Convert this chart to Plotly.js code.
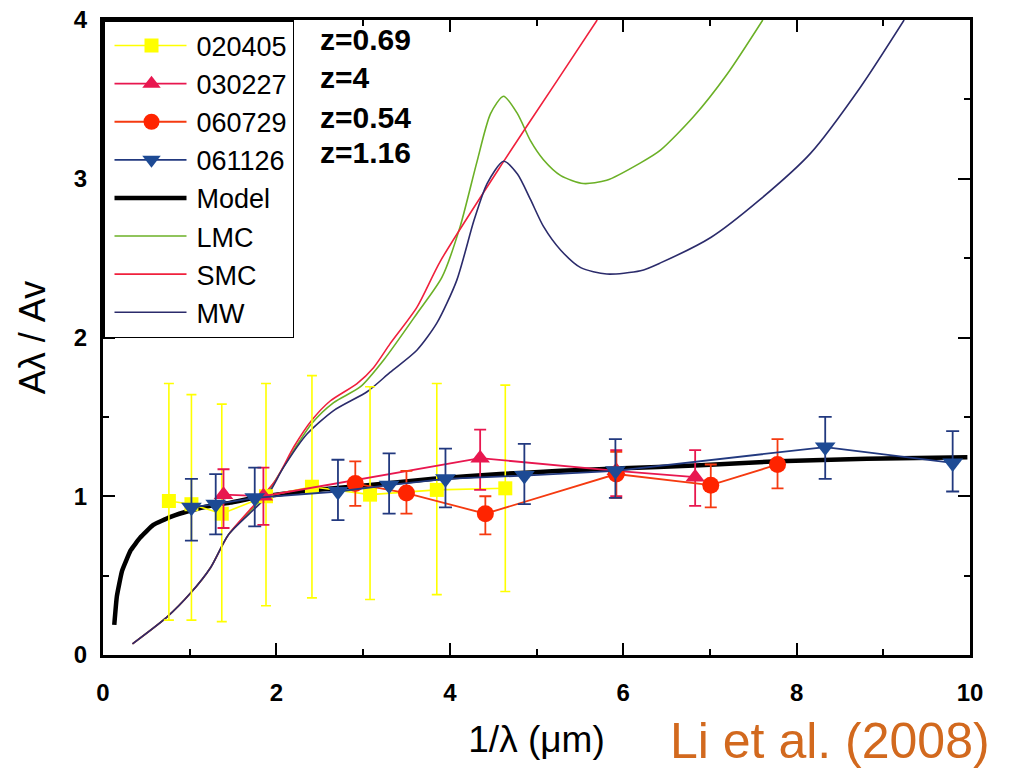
<!DOCTYPE html>
<html>
<head>
<meta charset="utf-8">
<script src="https://cdn.plot.ly/plotly-3.0.1.min.js"></script>
<style>html,body{margin:0;padding:0;background:#fff;}</style>
</head>
<body>
<div id="chart" style="width:1012px;height:773px;"></div>
<script>
// ---- data ----
// GRB 020405 (z=0.69)
const g020405_x  = [0.76, 1.02, 1.37, 1.88, 2.41, 3.08, 3.85, 4.64];
const g020405_y  = [0.97, 0.95, 0.89, 1.00, 1.06, 1.01, 1.04, 1.05];
const g020405_hi = [1.71, 1.64, 1.58, 1.71, 1.76, 1.69, 1.71, 1.70];
const g020405_lo = [0.22, 0.22, 0.21, 0.31, 0.36, 0.35, 0.38, 0.40];
// GRB 030227 (z=4)
const g030227_x  = [1.39, 1.85, 4.35, 5.92, 6.83];
const g030227_y  = [1.01, 1.00, 1.24, 1.16, 1.12];
const g030227_hi = [1.17, 1.18, 1.42, 1.29, 1.29];
const g030227_lo = [0.80, 0.82, 1.04, 1.00, 0.94];
// GRB 060729 (z=0.54)
const g060729_x  = [2.91, 3.50, 4.41, 5.92, 7.01, 7.78];
const g060729_y  = [1.08, 1.02, 0.89, 1.14, 1.07, 1.20];
const g060729_hi = [1.22, 1.16, 1.00, 1.28, 1.20, 1.36];
const g060729_lo = [0.94, 0.89, 0.76, 0.99, 0.93, 1.05];
// GRB 061126 (z=1.16)
const g061126_x  = [1.02, 1.30, 1.75, 2.71, 3.30, 3.95, 4.86, 5.91, 8.33, 9.80];
const g061126_y  = [0.93, 0.95, 0.99, 1.03, 1.07, 1.11, 1.13, 1.16, 1.31, 1.21];
const g061126_hi = [1.11, 1.14, 1.18, 1.23, 1.27, 1.30, 1.33, 1.36, 1.50, 1.41];
const g061126_lo = [0.72, 0.76, 0.81, 0.85, 0.89, 0.93, 0.95, 0.99, 1.11, 1.03];
// Model curve
const model_x = [0.13, 0.16, 0.22, 0.32, 0.43, 0.58, 0.78, 1.01, 1.24, 1.47, 1.75, 2.28, 3.05, 3.81, 4.58, 5.28, 5.91, 6.89, 7.78, 8.81, 9.97];
const model_y = [0.19, 0.37, 0.53, 0.66, 0.74, 0.82, 0.87, 0.91, 0.94, 0.96, 0.99, 1.03, 1.07, 1.11, 1.14, 1.16, 1.175, 1.195, 1.22, 1.237, 1.245];
// LMC extinction curve
const lmc_x = [0.34, 0.74, 1.01, 1.24, 1.45, 1.89, 2.20, 2.41, 2.66, 2.97, 3.24, 3.62, 3.91, 4.12, 4.31, 4.47, 4.62, 4.78, 4.93, 5.08, 5.28, 5.54, 5.81, 6.20, 6.43, 6.81, 7.20, 7.61];
const lmc_y = [0.07, 0.24, 0.39, 0.55, 0.76, 1.02, 1.29, 1.46, 1.59, 1.69, 1.86, 2.15, 2.38, 2.70, 3.10, 3.41, 3.52, 3.41, 3.24, 3.12, 3.02, 2.97, 2.99, 3.10, 3.18, 3.39, 3.66, 4.00];
// SMC extinction curve
const smc_x = [0.34, 0.74, 1.01, 1.24, 1.45, 1.99, 2.20, 2.41, 2.62, 2.93, 3.12, 3.31, 3.62, 3.89, 4.61, 5.24, 5.70];
const smc_y = [0.07, 0.24, 0.39, 0.55, 0.76, 1.10, 1.31, 1.48, 1.60, 1.71, 1.81, 1.96, 2.19, 2.48, 3.10, 3.62, 4.00];
// Milky Way extinction curve
const mw_x = [0.34, 0.74, 1.01, 1.24, 1.45, 1.89, 2.08, 2.35, 2.66, 3.05, 3.31, 3.62, 3.85, 4.08, 4.28, 4.43, 4.62, 4.78, 4.93, 5.08, 5.28, 5.51, 5.81, 6.20, 6.43, 7.01, 7.58, 8.16, 8.74, 9.24];
const mw_y = [0.07, 0.24, 0.39, 0.55, 0.76, 1.00, 1.18, 1.39, 1.54, 1.66, 1.78, 1.92, 2.09, 2.36, 2.74, 2.97, 3.11, 3.03, 2.87, 2.70, 2.55, 2.44, 2.40, 2.42, 2.47, 2.63, 2.87, 3.16, 3.58, 4.00];
// labels
const series_names = ['020405', '030227', '060729', '061126', 'Model', 'LMC', 'SMC', 'MW'];
const redshift_labels = ['z=0.69', 'z=4', 'z=0.54', 'z=1.16'];
const x_title = '1/λ (μm)';
const y_title = 'Aλ / Av';
const credit = 'Li et al. (2008)';

const FONT = 'Liberation Sans, Arial, Helvetica, sans-serif';
const up = (hi, y) => hi.map((h, i) => +(h - y[i]).toFixed(3));
const dn = (lo, y) => lo.map((l, i) => +(y[i] - l).toFixed(3));

function curve(x, y, name, color, width, rank, smooth) {
  return {x: x, y: y, name: name, type: 'scatter', mode: 'lines',
          line: {color: color, width: width, shape: 'spline', smoothing: smooth},
          legendrank: rank, hoverinfo: 'skip'};
}
function grb(x, y, hi, lo, name, color, lineColor, symbol, size, lw, ew, rank) {
  return {x: x, y: y, name: name, type: 'scatter', mode: 'lines+markers',
          line: {color: lineColor, width: lw},
          marker: {color: color, symbol: symbol, size: size, line: {width: 0}},
          error_y: {type: 'data', symmetric: false, array: up(hi, y), arrayminus: dn(lo, y),
                    color: lineColor, thickness: lw, width: ew},
          legendrank: rank};
}

const traces = [
  curve(lmc_x, lmc_y, series_names[5], '#6bb026', 1.6, 6, 0.7),
  curve(smc_x, smc_y, series_names[6], '#f0203c', 1.6, 7, 0.7),
  curve(mw_x, mw_y, series_names[7], '#2b2b6b', 1.6, 8, 0.7),
  curve(model_x, model_y, series_names[4], '#000000', 4.5, 5, 0.35),
  grb(g020405_x, g020405_y, g020405_hi, g020405_lo, series_names[0], '#ffff00', '#ffff00', 'square', 14, 1.6, 5, 1),
  grb(g030227_x, g030227_y, g030227_hi, g030227_lo, series_names[1], '#e8174f', '#e8174f', 'triangle-up', 17, 1.8, 6, 2),
  grb(g060729_x, g060729_y, g060729_hi, g060729_lo, series_names[2], '#ff2400', '#f53a10', 'circle', 17, 1.8, 6, 3),
  grb(g061126_x, g061126_y, g061126_hi, g061126_lo, series_names[3], '#1d4a94', '#22397f', 'triangle-down', 18, 1.8, 6.5, 4)
];

const zY = [0.969, 0.909, 0.847, 0.791];
const annotations = redshift_labels.map((t, i) => ({
  text: t, xref: 'paper', yref: 'paper', x: 0.248, y: zY[i],
  xanchor: 'left', yanchor: 'middle', showarrow: false,
  font: {family: FONT, size: 30, color: '#000', weight: 'bold'}
}));
annotations.push({
  text: credit, xref: 'paper', yref: 'paper', x: 0.839, y: -0.182,
  xanchor: 'center', yanchor: 'bottom', showarrow: false,
  font: {family: FONT, size: 50, color: '#d2691e'}
});

const axisCommon = {
  showgrid: false, zeroline: false, showline: true, linecolor: '#000', linewidth: 3,
  mirror: 'allticks', ticks: 'inside', ticklen: 12, tickwidth: 2, tickcolor: '#000',
  tickfont: {family: FONT, size: 24, color: '#000', weight: 'bold'},
  automargin: false
};

const layout = {
  width: 1012, height: 773,
  margin: {l: 103, r: 42, t: 20, b: 118},
  paper_bgcolor: '#ffffff', plot_bgcolor: '#ffffff',
  font: {family: FONT, color: '#000'},
  showlegend: true,
  legend: {x: 0, y: 1, xanchor: 'left', yanchor: 'top', bgcolor: '#ffffff',
           bordercolor: '#000', borderwidth: 1.5, itemwidth: 82, tracegroupgap: 0,
           font: {family: FONT, size: 27, color: '#000'}},
  xaxis: Object.assign({}, axisCommon, {
    range: [0, 10], dtick: 2, tick0: 0, ticklabelstandoff: 14,
    minor: {dtick: 1, ticks: 'inside', ticklen: 6, tickwidth: 2, tickcolor: '#000'},
    title: {text: x_title, font: {family: FONT, size: 37, color: '#000'}, standoff: 22}
  }),
  yaxis: Object.assign({}, axisCommon, {
    range: [0, 4], dtick: 1, tick0: 0, ticklabelstandoff: 8,
    minor: {dtick: 0.5, ticks: 'inside', ticklen: 6, tickwidth: 2, tickcolor: '#000'},
    title: {text: y_title, font: {family: FONT, size: 36, color: '#000'}, standoff: 18}
  }),
  annotations: annotations
};

Plotly.newPlot('chart', traces, layout, {displayModeBar: false, staticPlot: true}).then(function (gd) {
  // lengthen legend key lines and center markers on them, as in the reference
  gd.querySelectorAll('.legend path.js-line').forEach(function (p) { p.setAttribute('d', 'M10,0h72'); });
  gd.querySelectorAll('.legend .legendpoints path').forEach(function (p) { p.setAttribute('transform', 'translate(47,0)'); });
});
</script>
</body>
</html>
